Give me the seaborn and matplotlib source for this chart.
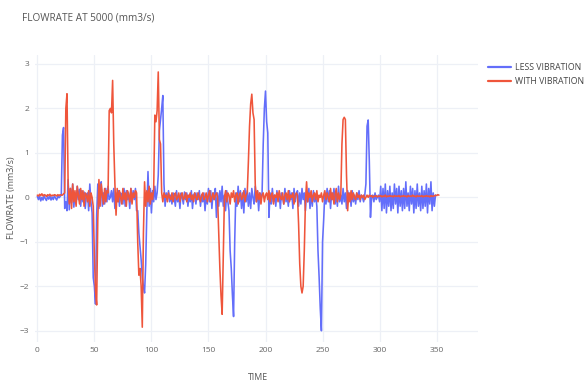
# flowrate comparison chart, plotly-like look
import numpy as np
import pandas as pd
import matplotlib.pyplot as plt
import seaborn as sns

# data (one sample per time step)
less_vibration = [
    0.02, -0.05, 0.03, -0.08, 0.00, -0.06, 0.04, -0.03, -0.07, 0.02,
    -0.04, 0.03, -0.06, 0.01, -0.05, 0.04, -0.02, -0.06, 0.03, -0.01,
    0.02, 0.05, 1.40, 1.57, -0.25, -0.10, -0.30, 0.40, -0.28, 0.20,
    -0.12, 0.30, -0.22, 0.10, -0.15, 0.25, -0.05, 0.18, -0.20, 0.15,
    -0.10, 0.12, -0.25, 0.05, 0.10, -0.30, 0.30, -0.10, -0.35, -1.80,
    -2.00, -2.40, -0.40, 0.30, -0.25, 0.20, 0.35, -0.20, 0.10, -0.15,
    0.20, -0.10, 0.25, -0.05, 0.00, 0.15, -0.10, 0.20, -0.25, 0.10,
    -0.10, 0.15, -0.20, 0.10, 0.05, -0.15, 0.20, -0.20, 0.15, -0.05,
    0.10, -0.25, 0.20, -0.10, 0.15, -0.05, 0.20, -0.30, -0.30, -0.80,
    -1.10, -1.40, -1.80, -2.00, -2.15, -1.50, -0.30, 0.58, -0.20, 0.20,
    -0.35, 0.15, -0.10, 0.25, -0.05, 0.10, 0.50, 1.50, 1.75, 2.00,
    2.29, 0.30, -0.20, 0.10, -0.05, 0.15, -0.10, 0.05, -0.15, 0.10,
    0.00, -0.20, 0.15, -0.10, 0.05, -0.25, 0.10, 0.00, -0.15, 0.12,
    -0.05, 0.10, -0.20, 0.05, -0.10, 0.15, -0.25, 0.05, 0.10, -0.15,
    0.10, -0.05, 0.15, -0.20, 0.05, -0.10, 0.10, -0.30, 0.05, -0.15,
    0.20, -0.10, 0.15, -0.25, 0.10, -0.05, 0.20, -0.45, 0.10, -0.20,
    0.15, -0.10, 0.25, -0.20, 0.05, -0.30, 0.15, -0.10, -0.30, -1.20,
    -1.60, -2.20, -2.68, -1.00, 0.10, -0.20, 0.25, -0.10, 0.15, -0.25,
    0.10, -0.35, 0.20, -0.10, 0.15, -0.20, 0.10, -0.25, 0.20, 0.00,
    -0.15, 0.25, -0.10, 0.15, -0.30, 0.10, -0.05, 0.10, 1.20, 2.00,
    2.39, 1.70, 1.45, -0.45, 0.10, -0.15, 0.20, -0.10, 0.05, -0.20,
    0.15, -0.05, 0.10, -0.25, 0.10, 0.00, -0.15, 0.20, -0.10, 0.05,
    -0.20, 0.15, -0.05, 0.10, -0.25, 0.20, -0.10, 0.05, 0.15, -0.20,
    0.10, -0.15, 0.20, -0.05, 0.10, -0.30, 0.15, -0.10, 0.20, -0.25,
    0.10, -0.20, 0.15, -0.10, 0.05, -0.20, -1.20, -1.80, -2.50, -3.00,
    -1.00, -0.50, 0.10, -0.15, 0.20, -0.10, 0.15, -0.25, 0.10, -0.05,
    0.20, -0.15, 0.10, -0.20, 0.25, -0.10, 0.05, -0.15, 0.20, -0.10,
    0.10, -0.25, 0.15, -0.05, 0.10, -0.20, 0.15, -0.10, 0.05, -0.15,
    0.10, -0.05, 0.15, -0.10, 0.05, 0.00, -0.10, 0.05, 0.30, 1.60,
    1.74, 0.80, -0.45, 0.00, 0.05, -0.10, 0.10, -0.05, 0.00, 0.05,
    -0.10, 0.25, -0.30, 0.20, -0.25, 0.30, -0.35, 0.15, -0.20, 0.25,
    -0.30, 0.10, -0.25, 0.30, -0.15, 0.20, -0.35, 0.25, -0.20, 0.15,
    -0.30, 0.20, -0.25, 0.35, -0.20, 0.10, -0.30, 0.25, -0.15, 0.20,
    -0.35, 0.15, -0.25, 0.30, -0.20, 0.10, -0.30, 0.25, -0.25, 0.15,
    -0.20, 0.30, -0.35, 0.20, -0.15, 0.35, -0.30, 0.10, -0.20, 0.05,
]

with_vibration = [
    0.05, 0.03, 0.07, 0.04, 0.08, 0.03, 0.06, 0.05, 0.02, 0.06,
    0.04, 0.07, 0.03, 0.05, 0.04, 0.06, 0.05, 0.03, 0.06, 0.04,
    0.06, 0.05, 0.05, 0.08, 0.10, 2.00, 2.33, 0.30, -0.15, 0.20,
    -0.25, 0.30, -0.10, 0.15, -0.20, 0.25, 0.05, -0.15, 0.20, -0.05,
    0.15, -0.20, 0.10, 0.05, -0.10, 0.15, -0.20, 0.10, 0.00, -0.20,
    -1.30, -2.10, -2.42, -0.50, 0.40, -0.20, 0.30, 0.05, -0.15, 0.20,
    -0.10, 0.15, 0.10, 1.95, 2.00, 1.90, 2.63, 1.20, 0.30, -0.40,
    0.20, -0.10, 0.15, 0.00, -0.15, 0.20, -0.05, 0.10, -0.20, 0.15,
    0.05, -0.10, 0.20, -0.15, 0.10, 0.00, 0.15, 0.10, -1.00, -1.75,
    -1.60, -2.00, -2.92, -0.80, 0.35, -0.20, 0.15, -0.10, 0.25, -0.15,
    0.10, -0.05, 0.20, 1.85, 1.70, 1.95, 2.82, 1.30, 1.20, 0.10,
    -0.10, 0.10, 0.00, 0.05, -0.10, 0.10, 0.00, -0.05, 0.10, -0.10,
    0.05, 0.10, -0.05, 0.00, 0.10, -0.10, 0.05, 0.10, -0.05, 0.00,
    0.10, -0.10, 0.05, 0.00, 0.10, -0.05, 0.05, -0.10, 0.10, 0.00,
    -0.05, 0.10, 0.00, -0.10, 0.05, 0.10, -0.05, 0.00, 0.10, -0.10,
    0.05, 0.15, -0.10, 0.00, 0.10, -0.05, 0.05, 0.10, 0.00, -0.80,
    -1.60, -2.20, -2.63, -1.35, 0.00, 0.15, -0.10, 0.10, 0.05, -0.15,
    0.10, 0.00, 0.15, -0.10, 0.05, 0.10, -0.15, 0.05, 0.10, -0.05,
    0.00, 0.15, -0.10, 0.05, 0.10, 0.80, 1.60, 2.10, 2.32, 1.90,
    1.75, 0.30, -0.10, 0.15, -0.05, 0.10, -0.15, 0.05, 0.10, -0.10,
    0.05, 0.10, -0.05, 0.15, -0.10, 0.05, 0.10, -0.15, 0.05, 0.00,
    0.10, -0.10, 0.15, 0.00, -0.05, 0.10, -0.15, 0.05, 0.10, -0.05,
    0.15, -0.10, 0.05, 0.00, 0.10, -0.15, 0.05, 0.10, 0.05, -0.60,
    -1.50, -2.00, -2.15, -2.00, -1.20, -0.10, 0.35, -0.10, 0.10, 0.00,
    0.15, -0.10, 0.05, 0.10, -0.05, 0.15, -0.10, 0.05, 0.00, 0.10,
    -0.10, 0.05, 0.15, -0.05, 0.10, 0.00, -0.10, 0.20, -0.05, 0.10,
    -0.15, 0.05, 0.20, -0.10, 0.10, -0.05, 0.05, 1.20, 1.75, 1.80,
    1.75, 0.50, -0.30, 0.10, -0.10, 0.15, -0.05, 0.10, 0.00, -0.05,
    0.10, 0.00, 0.05, -0.05, 0.05, 0.00, 0.05, -0.05, 0.00, 0.05,
    0.00, 0.05, 0.02, 0.04, 0.00, 0.03, 0.02, 0.04, 0.01, 0.03,
    0.02, 0.04, 0.01, 0.03, 0.02, 0.05, 0.01, 0.03, 0.02, 0.04,
    0.02, 0.03, 0.01, 0.04, 0.02, 0.03, 0.02, 0.04, 0.01, 0.03,
    0.02, 0.04, 0.02, 0.03, 0.01, 0.04, 0.02, 0.03, 0.02, 0.05,
    0.02, 0.03, 0.01, 0.04, 0.02, 0.03, 0.02, 0.04, 0.01, 0.03,
    0.02, 0.04, 0.02, 0.03, 0.01, 0.04, 0.02, 0.03, 0.03, 0.05,
    0.04, 0.06, 0.05,
]

series_names = ["LESS VIBRATION", "WITH VIBRATION"]
colors = ["#636efa", "#EF553B"]
x_ticks = [0, 50, 100, 150, 200, 250, 300, 350]
y_ticks = [-3, -2, -1, 0, 1, 2, 3]

# long-form table for seaborn
df = pd.concat([
    pd.DataFrame({"time": np.arange(len(less_vibration)),
                  "flowrate": less_vibration, "series": series_names[0]}),
    pd.DataFrame({"time": np.arange(len(with_vibration)),
                  "flowrate": with_vibration, "series": series_names[1]}),
], ignore_index=True)

sns.set_theme(style="white")
plt.rcParams["font.family"] = ["Open Sans", "DejaVu Sans"]

fig = plt.figure(figsize=(5.84, 3.85), dpi=100)
ax = fig.add_axes([0.060, 0.112, 0.758, 0.745])

sns.lineplot(data=df, x="time", y="flowrate", hue="series",
             palette=colors, linewidth=1.15, ax=ax)

# axes styling
ax.set_xlim(-2, 386)
ax.set_ylim(-3.25, 3.2)
ax.set_xticks(x_ticks)
ax.set_yticks(y_ticks)
ax.grid(True, color="#edf0f6", linewidth=0.9)
ax.set_axisbelow(True)
for s in ax.spines.values():
    s.set_visible(False)
ax.tick_params(axis="both", length=0, labelsize=6, labelcolor="#666666", pad=4)
ax.set_xlabel("")
ax.set_ylabel("")

# legend outside on the right
leg = ax.legend(loc="upper left", bbox_to_anchor=(1.005, 1.0), frameon=False,
                fontsize=6.3, handlelength=2.6, handletextpad=0.5,
                labelspacing=0.55, labelcolor="#444444")
for line in leg.get_lines():
    line.set_linewidth(1.6)

# title and axis labels
fig.text(22 / 584, 1 - 18 / 385, "FLOWRATE AT 5000 (mm3/s)",
         fontsize=7.2, color="#555555", va="center", ha="left")
fig.text(258 / 584, 1 - 378 / 385, "TIME", fontsize=6.3, color="#555555",
         va="center", ha="center")
fig.text(12 / 584, 1 - 198 / 385, "FLOWRATE (mm3/s)", fontsize=6.5,
         color="#555555", va="center", ha="center", rotation=90)

plt.savefig("out.png", dpi=100)
